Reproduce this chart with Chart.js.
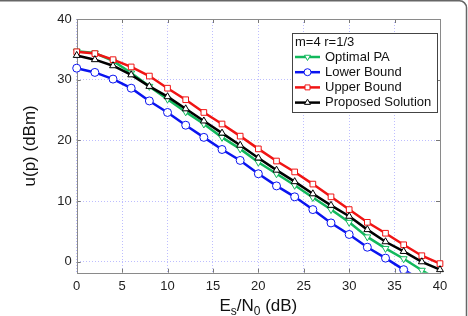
<!DOCTYPE html>
<html>
<head>
<meta charset="utf-8">
<script src="https://cdn.jsdelivr.net/npm/chart.js@4/dist/chart.umd.min.js"></script>
<style>
  html, body { margin: 0; padding: 0; background: #fff; }
  #wrap { position: relative; width: 468px; height: 316px; }
</style>
</head>
<body>
<div id="wrap"><canvas id="chart" width="468" height="316"></canvas></div>
<script>
// Es/N0 (dB) sample points
var snr = [0, 2, 4, 6, 8, 10, 12, 14, 16, 18, 20, 22, 24, 26, 28, 30, 32, 34, 36, 38, 40];

// u(p) in dBm
var optimalPA = [34.7, 34.4, 33.1, 31.1, 28.9, 26.8, 24.7, 22.7, 20.5, 18.6, 16.4, 14.5, 12.6, 10.6, 8.6, 6.5, 4.1, 2.2, 0.5, -1.4, -3.2];
var lowerBound = [31.9, 31.2, 30.1, 28.6, 26.5, 24.6, 22.5, 20.5, 18.5, 16.7, 14.5, 12.5, 10.7, 8.6, 6.4, 4.5, 2.4, 0.6, -1.3, -3.1, -4.9];
var upperBound = [34.6, 34.3, 33.3, 32.1, 30.6, 28.6, 26.7, 24.6, 22.7, 20.7, 18.6, 16.6, 14.8, 12.8, 10.7, 8.6, 6.5, 4.7, 2.8, 1.0, -0.3];
var proposed = [34.0, 33.3, 32.3, 30.8, 28.9, 27.2, 25.2, 23.2, 21.2, 19.2, 17.1, 15.1, 13.2, 11.2, 9.3, 7.5, 5.3, 3.3, 1.7, 0.0, -1.3];

var seriesLabels = ['Optimal PA', 'Lower Bound', 'Upper Bound', 'Proposed Solution'];
var legendTitle = 'm=4 r=1/3';
var xTicks = [0, 5, 10, 15, 20, 25, 30, 35, 40];
var yTicks = [0, 10, 20, 30, 40];

var FONT = '"Liberation Sans", Arial, sans-serif';

function pts(vals) {
    return snr.map(function (x, i) { return { x: x, y: vals[i] }; });
}

function makeSet(label, vals, color, style, rot, order) {
    return {
        label: label,
        data: pts(vals),
        borderColor: color,
        borderWidth: 2.5,
        pointStyle: style,
        rotation: rot,
        pointRadius: 4,
        pointBorderWidth: 1,
        pointBackgroundColor: '#fff',
        pointBorderColor: color,
        order: order,
        clip: { left: false, right: false, top: false, bottom: 0 }
    };
}

var datasets = [
    makeSet(seriesLabels[0], optimalPA, '#12b85c', 'triangle', 180, 3),
    makeSet(seriesLabels[1], lowerBound, '#0a14f0', 'circle', 0, 2),
    makeSet(seriesLabels[2], upperBound, '#f01414', 'rect', 0, 1),
    makeSet(seriesLabels[3], proposed, '#000000', 'triangle', 0, 0)
];

// frame, inward ticks (matlab style), titles and the boxed legend
var decor = {
    id: 'decor',
    beforeDatasetsDraw: function (chart) {
        var ctx = chart.ctx, a = chart.chartArea;
        var sx = chart.scales.x, sy = chart.scales.y;
        ctx.save();
        ctx.strokeStyle = '#777';
        ctx.lineWidth = 1;
        ctx.beginPath();
        xTicks.forEach(function (t) {
            var px = Math.round(sx.getPixelForValue(t)) + 0.5;
            ctx.moveTo(px, a.bottom); ctx.lineTo(px, a.bottom - 4);
            ctx.moveTo(px, a.top); ctx.lineTo(px, a.top + 4);
        });
        yTicks.forEach(function (t) {
            var py = Math.round(sy.getPixelForValue(t)) + 0.5;
            ctx.moveTo(a.left, py); ctx.lineTo(a.left + 4, py);
            ctx.moveTo(a.right, py); ctx.lineTo(a.right - 4, py);
        });
        ctx.stroke();
        ctx.strokeStyle = '#8a8a8a';
        ctx.strokeRect(Math.round(a.left) + 0.5, Math.round(a.top) + 0.5,
            Math.round(a.right - a.left), Math.round(a.bottom - a.top));
        ctx.restore();
    },
    afterDraw: function (chart) {
        var ctx = chart.ctx, a = chart.chartArea;
        ctx.save();

        // outer frame of the figure
        ctx.strokeStyle = '#666';
        ctx.lineWidth = 1.5;
        ctx.beginPath();
        ctx.moveTo(0, 0.8);
        ctx.lineTo(459, 0.8);
        ctx.arcTo(466.5, 0.8, 466.5, 8, 7);
        ctx.lineTo(466.5, 316);
        ctx.stroke();

        // y title
        ctx.fillStyle = '#111';
        ctx.font = '17px ' + FONT;
        ctx.textAlign = 'center';
        ctx.textBaseline = 'middle';
        ctx.save();
        ctx.translate(30, (a.top + a.bottom) / 2);
        ctx.rotate(-Math.PI / 2);
        ctx.fillText('u(p) (dBm)', 0, 0);
        ctx.restore();

        // x title with subscripts
        var parts = [['E', 0], ['s', 1], ['/N', 0], ['0', 1], [' (dB)', 0]];
        var big = '17px ' + FONT, small = '12px ' + FONT;
        var w = 0;
        parts.forEach(function (p) {
            ctx.font = p[1] ? small : big;
            w += ctx.measureText(p[0]).width;
        });
        var x = (a.left + a.right) / 2 - w / 2;
        ctx.textAlign = 'left';
        ctx.textBaseline = 'alphabetic';
        parts.forEach(function (p) {
            ctx.font = p[1] ? small : big;
            ctx.fillText(p[0], x, p[1] ? 315 : 311);
            x += ctx.measureText(p[0]).width;
        });

        // legend box
        var bx = 292, by = 33, bw = 145, bh = 79;
        ctx.fillStyle = '#fff';
        ctx.fillRect(bx, by, bw, bh);
        ctx.strokeStyle = '#444';
        ctx.lineWidth = 1;
        ctx.strokeRect(bx + 0.5, by + 0.5, bw, bh);
        ctx.fillStyle = '#111';
        ctx.font = '13px ' + FONT;
        ctx.textBaseline = 'middle';
        ctx.fillText(legendTitle, 295, 42.5);
        seriesLabels.forEach(function (lab, i) {
            var ds = datasets[i];
            var y = 57 + i * 15.2;
            ctx.strokeStyle = ds.borderColor;
            ctx.lineWidth = 2.5;
            ctx.beginPath();
            ctx.moveTo(295, y); ctx.lineTo(320, y);
            ctx.stroke();
            ctx.fillStyle = '#fff';
            ctx.lineWidth = 1;
            Chart.helpers.drawPoint(ctx, {
                pointStyle: ds.pointStyle, radius: 3.5, rotation: ds.rotation, borderWidth: 1
            }, 307.5, y);
            ctx.fillStyle = '#111';
            ctx.fillText(lab, 325, y);
        });
        ctx.restore();
    }
};

new Chart('chart', {
    type: 'line',
    data: { datasets: datasets },
    plugins: [decor],
    options: {
        responsive: false,
        animation: false,
        layout: { padding: { left: 0, right: 28, top: 19, bottom: 0 } },
        plugins: { legend: { display: false }, tooltip: { enabled: false } },
        scales: {
            x: {
                type: 'linear',
                min: 0,
                max: 40,
                afterBuildTicks: function (s) { s.ticks = xTicks.map(function (v) { return { value: v }; }); },
                afterFit: function (s) { s.height = 43.3; },
                ticks: { color: '#222', font: { size: 13, family: FONT }, padding: 6, maxRotation: 0 },
                grid: { color: 'rgba(110,110,255,0.45)', lineWidth: 1, drawTicks: false },
                border: { display: false, dash: [1, 2] }
            },
            y: {
                min: -1.8,
                max: 40,
                afterBuildTicks: function (s) { s.ticks = yTicks.map(function (v) { return { value: v }; }); },
                afterFit: function (s) { s.width = 76.7; },
                ticks: { color: '#222', font: { size: 13, family: FONT }, padding: 5 },
                grid: { color: 'rgba(110,110,255,0.45)', lineWidth: 1, drawTicks: false },
                border: { display: false, dash: [1, 2] }
            }
        }
    }
});
</script>
</body>
</html>
